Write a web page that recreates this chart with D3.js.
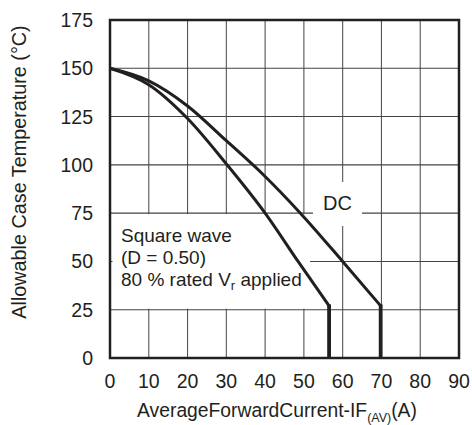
<!DOCTYPE html>
<html>
<head>
<meta charset="utf-8">
<script src="https://cdn.jsdelivr.net/npm/d3@7"></script>
<style>
  html, body { margin: 0; padding: 0; background: #fff; }
  svg { display: block; font-family: "Liberation Sans", Arial, sans-serif; }
</style>
</head>
<body>
<svg id="chart" width="472" height="425"></svg>
<script>
// ---- data ----
const xTicks = [0, 10, 20, 30, 40, 50, 60, 70, 80, 90];
const yTicks = [0, 25, 50, 75, 100, 125, 150, 175];

const dcCurrent = [0, 10, 20, 30, 40, 49.1, 60, 69.8];
const dcTemp    = [150, 143.5, 130.5, 112.5, 94, 75, 50, 27];

const sqCurrent = [0, 10, 20, 30, 40, 48.5, 56.5];
const sqTemp    = [150, 141.5, 124, 100.5, 75, 50, 27];

const dcLabel = "DC";
const sqLabelLines = ["Square wave", "(D = 0.50)"];
const xTitle = "AverageForwardCurrent-IF";
const yTitle = "Allowable Case Temperature (°C)";

// ---- layout ----
const svg = d3.select("#chart");
const pL = 110, pR = 459, pT = 20, pB = 358;
const x = d3.scaleLinear().domain([0, 90]).range([pL, pR]);
const y = d3.scaleLinear().domain([0, 175]).range([pB, pT]);
const ink = "#231f20";

// grid
const g = svg.append("g");
g.selectAll("line.v").data(xTicks.slice(1, -1)).enter().append("line")
  .attr("x1", d => x(d)).attr("x2", d => x(d))
  .attr("y1", pT).attr("y2", pB)
  .attr("stroke", "#555").attr("stroke-width", 1.1);
g.selectAll("line.h").data(yTicks.slice(1, -1)).enter().append("line")
  .attr("x1", pL).attr("x2", pR)
  .attr("y1", d => y(d)).attr("y2", d => y(d))
  .attr("stroke", "#444").attr("stroke-width", 1.1);

// white label boxes over grid
svg.append("rect")
  .attr("x", pL + 2.5).attr("y", y(75) + 1)
  .attr("width", 310 - pL - 2.5).attr("height", y(25) - y(75) - 2)
  .attr("fill", "#fff");
svg.append("rect")
  .attr("x", 313).attr("y", 182)
  .attr("width", 49).attr("height", 44)
  .attr("fill", "#fff");

// frame
svg.append("rect")
  .attr("x", pL).attr("y", pT)
  .attr("width", pR - pL).attr("height", pB - pT)
  .attr("fill", "none").attr("stroke", ink).attr("stroke-width", 2.5);

// curves
const line = d3.line().x(d => x(d[0])).y(d => y(d[1])).curve(d3.curveMonotoneX);
function drawSeries(cur, temp) {
  const pts = cur.map((c, i) => [c, temp[i]]);
  svg.append("path").attr("d", line(pts))
    .attr("fill", "none").attr("stroke", ink).attr("stroke-width", 3)
    .attr("stroke-linejoin", "round");
  const last = pts[pts.length - 1];
  svg.append("line")
    .attr("x1", x(last[0])).attr("x2", x(last[0]))
    .attr("y1", y(last[1]) - 1.5).attr("y2", y(0))
    .attr("stroke", ink).attr("stroke-width", 3.8);
}
drawSeries(sqCurrent, sqTemp);
drawSeries(dcCurrent, dcTemp);

// tick labels
svg.selectAll("text.xt").data(xTicks).enter().append("text")
  .attr("x", d => x(d)).attr("y", 388)
  .attr("text-anchor", "middle").attr("font-size", 19.5).attr("fill", ink)
  .text(d => d);
svg.selectAll("text.yt").data(yTicks).enter().append("text")
  .attr("x", 93).attr("y", d => y(d)).attr("dy", "0.36em")
  .attr("text-anchor", "end").attr("font-size", 19.5).attr("fill", ink)
  .text(d => d);

// annotations
svg.append("text").attr("x", 337.5).attr("y", 210)
  .attr("text-anchor", "middle").attr("font-size", 20).attr("fill", ink)
  .text(dcLabel);
sqLabelLines.forEach((t, i) => {
  svg.append("text").attr("x", 121).attr("y", 242 + i * 22)
    .attr("font-size", 19).attr("fill", ink).text(t);
});
const t3 = svg.append("text").attr("x", 121).attr("y", 286)
  .attr("font-size", 19).attr("fill", ink);
t3.append("tspan").text("80 % rated V");
t3.append("tspan").attr("font-size", 13).attr("dy", 4).text("r");
t3.append("tspan").attr("dy", -4).text(" applied");

// axis titles
const xt = svg.append("text").attr("x", 277).attr("y", 417)
  .attr("text-anchor", "middle").attr("font-size", 19.3).attr("fill", ink);
xt.append("tspan").text(xTitle);
xt.append("tspan").attr("font-size", 12.5).attr("dy", 5).text("(AV)");
xt.append("tspan").attr("dy", -5).text("(A)");

svg.append("text")
  .attr("transform", "translate(26,172) rotate(-90)")
  .attr("text-anchor", "middle").attr("font-size", 19.8).attr("fill", ink)
  .text(yTitle);
</script>
</body>
</html>
